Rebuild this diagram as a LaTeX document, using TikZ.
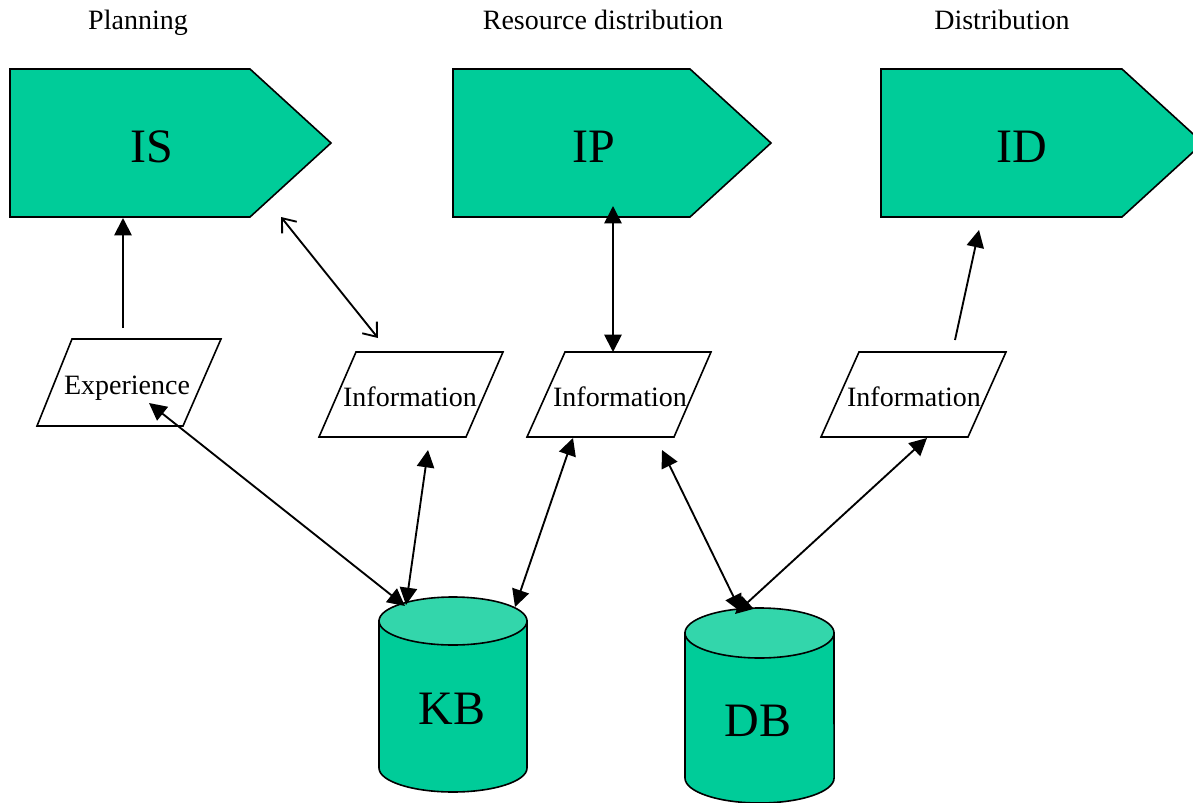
\documentclass[tikz,border=0pt]{standalone}
\usepackage{fontspec}
\setmainfont{Liberation Serif}
\usetikzlibrary{arrows.meta}
\definecolor{procgreen}{HTML}{00CC99}
\definecolor{topgreen}{HTML}{33D6AB}
\tikzset{
  proc/.style={draw=black, line width=1.2pt, fill=procgreen, line join=miter},
  iobox/.style={draw=black, line width=1.2pt, fill=white},
  store/.style={draw=black, line width=1.2pt, fill=procgreen},
  storetop/.style={draw=black, line width=1.2pt, fill=topgreen},
  bigtxt/.style={font=\fontsize{36}{40}\selectfont, anchor=base, inner sep=0pt},
  smalltxt/.style={font=\fontsize{21}{24}\selectfont, anchor=base, inner sep=0pt},
  link/.style={line width=1.4pt, draw=black},
  tip/.style={-{Triangle[length=13pt,width=13pt]}},
  bitip/.style={{Triangle[length=13pt,width=13pt]}-{Triangle[length=13pt,width=13pt]}},
  openbi/.style={{Straight Barb[length=9pt,width=14pt,line width=1.4pt]}-{Straight Barb[length=9pt,width=14pt,line width=1.4pt]}}
}
\begin{document}
\begin{tikzpicture}[x=0.75pt,y=-0.75pt]
\useasboundingbox (0,0) rectangle (1193,803);
\clip (0,0) rectangle (1193,803);

% phase headings
\node[smalltxt] (hplan) at (138,30) {Planning};
\node[smalltxt] (hres) at (603,30) {Resource distribution};
\node[smalltxt] (hdist) at (1002,30) {Distribution};

% process arrows
\draw[proc] (10,69) -- (250,69) -- (331,143) -- (250,217) -- (10,217) -- cycle;
\draw[proc] (453,69) -- (690,69) -- (771,143) -- (690,217) -- (453,217) -- cycle;
\draw[proc] (881,69) -- (1122,69) -- (1203,143) -- (1122,217) -- (881,217) -- cycle;
\node[bigtxt] (IS) at (152,162) {IS};
\node[bigtxt] (IP) at (594,162) {IP};
\node[bigtxt] (ID) at (1022,162) {ID};

% input/output boxes
\draw[iobox] (72,339) -- (221,339) -- (183,426) -- (37,426) -- cycle;
\draw[iobox] (356,352) -- (503,352) -- (466,437) -- (319,437) -- cycle;
\draw[iobox] (565,352) -- (711,352) -- (674,437) -- (527,437) -- cycle;
\draw[iobox] (859,352) -- (1006,352) -- (968,437) -- (821,437) -- cycle;
\node[smalltxt] (exp) at (127,394) {Experience};
\node[smalltxt] (inf1) at (410,406) {Information};
\node[smalltxt] (inf2) at (620,406) {Information};
\node[smalltxt] (inf3) at (914,406) {Information};

% stores
\draw[store] (379,621) -- (379,768) arc[start angle=180, end angle=360, x radius=55.5pt, y radius=18pt] -- (527,621) -- cycle;
\draw[storetop] (453,621) ellipse [x radius=55.5pt, y radius=18pt];
\draw[store] (685,633) -- (685,778) arc[start angle=180, end angle=360, x radius=55.9pt, y radius=18.75pt] -- (834,633) -- cycle;
\draw[storetop] (759.5,633) ellipse [x radius=55.9pt, y radius=18.75pt];
\node[bigtxt] (KB) at (452,724) {KB};
\node[bigtxt] (DB) at (758,736) {DB};

% connector ends
\coordinate (exTop) at (123,328);
\coordinate (isBot) at (123,218);
\coordinate (isCorner) at (281,217);
\coordinate (inf1Top) at (378,338);
\coordinate (ipBot) at (613,206);
\coordinate (inf2Top) at (613,352);
\coordinate (inf3Top) at (955,340);
\coordinate (idBot) at (979,230);
\coordinate (kbL) at (405,606);
\coordinate (expIn) at (149,403);
\coordinate (kbM) at (406,605);
\coordinate (inf1Bot) at (428,450);
\coordinate (kbR) at (515,607);
\coordinate (inf2BotL) at (573,438);
\coordinate (dbL) at (741,612);
\coordinate (inf2BotR) at (662,450);
\coordinate (dbR) at (735,614);
\coordinate (inf3Bot) at (927,438);

% connectors
\draw[link, tip] (exTop) -- (isBot);
\draw[link, openbi] (isCorner) -- (inf1Top);
\draw[link, bitip] (ipBot) -- (inf2Top);
\draw[link, tip] (inf3Top) -- (idBot);
\draw[link, bitip] (kbL) -- (expIn);
\draw[link, bitip] (kbM) -- (inf1Bot);
\draw[link, bitip] (kbR) -- (inf2BotL);
\draw[link, bitip] (dbL) -- (inf2BotR);
\draw[link, bitip] (dbR) -- (inf3Bot);
\end{tikzpicture}
\end{document}
